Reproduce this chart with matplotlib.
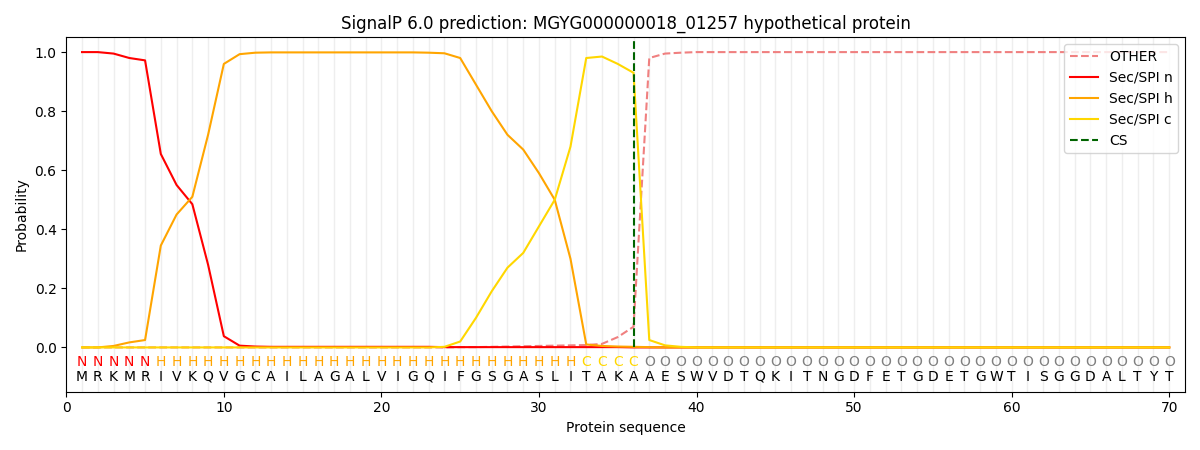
import numpy as np
import matplotlib
matplotlib.use("Agg")
import matplotlib.pyplot as plt

sequence = list("MRKMRIVKQVGCAILAGALVIGQIFGSGASLITAKAAESWVDTQKITNGDFETGDETGWTISGGDALTYT")
region_labels = ["N"] * 5 + ["H"] * 27 + ["C"] * 4 + ["O"] * 34

sp_n = [1.0, 1.0, 0.995, 0.98, 0.972, 0.655, 0.55, 0.485, 0.28, 0.038,
        0.006, 0.003, 0.002, 0.002, 0.002, 0.002, 0.002, 0.002, 0.002, 0.002,
        0.002, 0.002, 0.002, 0.001, 0.001, 0.001, 0.001, 0.001, 0.001, 0.001,
        0.001, 0.001, 0.001, 0.001, 0.001, 0.0] + [0.0] * 34
sp_h = [0.0, 0.0, 0.005, 0.017, 0.025, 0.345, 0.45, 0.51, 0.72, 0.96,
        0.993, 0.998, 0.999, 0.999, 0.999, 0.999, 0.999, 0.999, 0.999, 0.999,
        0.999, 0.999, 0.998, 0.996, 0.98, 0.89, 0.80, 0.72, 0.67, 0.59,
        0.50, 0.30, 0.01, 0.005, 0.003, 0.002, 0.001] + [0.0] * 33
sp_c = [0.0] * 23 + [0.002, 0.02, 0.10, 0.19, 0.27, 0.32, 0.41,
                     0.50, 0.68, 0.98, 0.985, 0.96, 0.93, 0.025, 0.007, 0.002] + [0.0] * 31
other = [0.0] * 24 + [0.001, 0.001, 0.002, 0.003, 0.004, 0.005,
                      0.006, 0.007, 0.008, 0.012, 0.035, 0.07, 0.98, 0.995, 0.998] + [1.0] * 31
cs_pos = 36

label_colors = {"N": "red", "H": "orange", "C": "gold", "O": "gray"}

x = np.arange(1, len(sequence) + 1)

fig, ax = plt.subplots(figsize=(12, 4.5), dpi=100)
for xi in x:
    ax.axvline(xi, color="#eeeeee", lw=1, zorder=0)

ax.plot(x, other, color="lightcoral", ls="--", label="OTHER")
ax.plot(x, sp_n, color="red", label="Sec/SPI n")
ax.plot(x, sp_h, color="orange", label="Sec/SPI h")
ax.plot(x, sp_c, color="gold", label="Sec/SPI c")
ax.plot([cs_pos, cs_pos], [0, 1.05], color="darkgreen", ls="--", label="CS")

for xi, lab, aa in zip(x, region_labels, sequence):
    ax.text(xi, -0.05, lab, ha="center", va="center", fontsize=10, color=label_colors[lab])
    ax.text(xi, -0.1, aa, ha="center", va="center", fontsize=10, color="black")

ax.set_xlim(0, 71)
ax.set_ylim(-0.15, 1.05)
ax.set_xlabel("Protein sequence")
ax.set_ylabel("Probability")
ax.set_title("SignalP 6.0 prediction: MGYG000000018_01257 hypothetical protein")
ax.legend(loc="upper right")

plt.tight_layout()
fig.savefig("out.png", dpi=100)
plt.close()
